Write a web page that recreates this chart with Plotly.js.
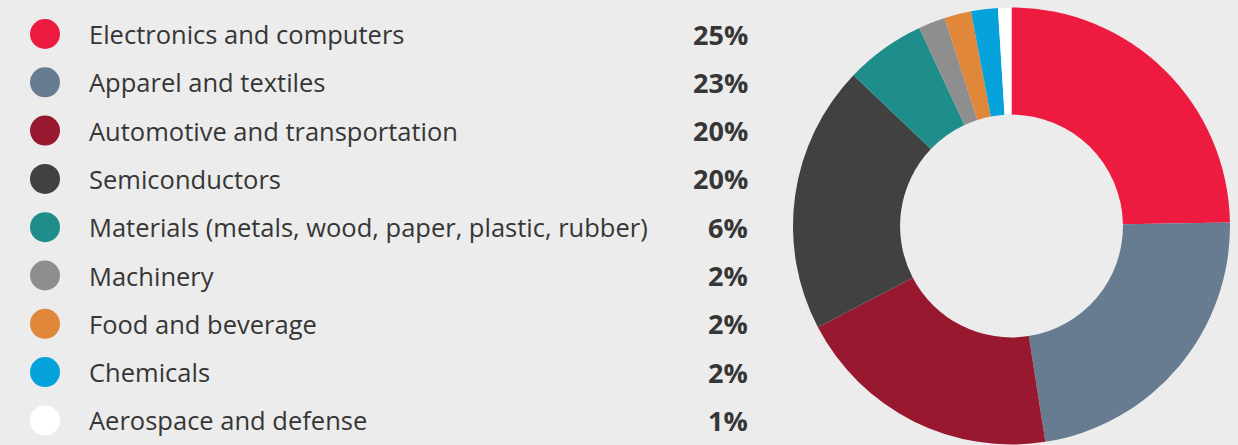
<!DOCTYPE html>
<html>
<head>
<meta charset="utf-8">
<script src="https://cdn.plot.ly/plotly-3.0.1.min.js"></script>
<style>
html,body{margin:0;padding:0;background:#ececec;}
#chart{width:1238px;height:445px;}
</style>
</head>
<body>
<div id="chart"></div>
<script>
// Data
const categories = [
  "Electronics and computers",
  "Apparel and textiles",
  "Automotive and transportation",
  "Semiconductors",
  "Materials (metals, wood, paper, plastic, rubber)",
  "Machinery",
  "Food and beverage",
  "Chemicals",
  "Aerospace and defense"
];
const shares = [25, 23, 20, 20, 6, 2, 2, 2, 1];
const shareLabels = ["25%", "23%", "20%", "20%", "6%", "2%", "2%", "2%", "1%"];
const colors = ["#ED1B3F", "#677C90", "#981830", "#414141", "#1F8E8A", "#8E8E8E", "#E0873A", "#05A2DC", "#FFFFFF"];

// Layout constants (pixels)
const W = 1238, H = 445;
const rowTop = 34, rowStep = 48.3;
const markerX = 45, labelX = 87, pctX = 750;
const rowsY = categories.map((_, i) => rowTop + i * rowStep);

const textColor = "#363636";
const fontFam = "'Open Sans', Lato, sans-serif";

const pie = {
  type: "pie",
  values: shares,
  labels: categories,
  marker: {colors: colors, line: {width: 0}},
  hole: 0.51,
  sort: false,
  direction: "clockwise",
  rotation: 0,
  textinfo: "none",
  hoverinfo: "label+percent",
  showlegend: false,
  domain: {x: [793 / W, 1230 / W], y: [0.5 / H, 437.5 / H]}
};

const legendMarkers = {
  type: "scatter",
  mode: "markers",
  x: categories.map(() => markerX),
  y: rowsY,
  marker: {size: 30, color: colors, line: {width: 0}},
  hoverinfo: "skip",
  showlegend: false,
  xaxis: "x", yaxis: "y"
};

const annotations = [];
categories.forEach((c, i) => {
  annotations.push({
    xref: "x", yref: "y", x: labelX, y: rowsY[i],
    text: c, showarrow: false, xanchor: "left", yanchor: "middle",
    font: {family: fontFam, size: 25.5, color: textColor}
  });
  annotations.push({
    xref: "x", yref: "y", x: pctX, y: rowsY[i],
    text: "<b>" + shareLabels[i] + "</b>", showarrow: false, xanchor: "right", yanchor: "middle",
    font: {family: fontFam, size: 27, color: textColor}
  });
});

const layout = {
  width: W, height: H,
  margin: {l: 0, r: 0, t: 0, b: 0, pad: 0},
  paper_bgcolor: "#ececec",
  plot_bgcolor: "rgba(0,0,0,0)",
  showlegend: false,
  xaxis: {range: [0, W], visible: false, fixedrange: true, domain: [0, 1]},
  yaxis: {range: [H, 0], visible: false, fixedrange: true, domain: [0, 1]},
  annotations: annotations
};

Plotly.newPlot("chart", [legendMarkers, pie], layout, {displayModeBar: false, staticPlot: true});
</script>
</body>
</html>
